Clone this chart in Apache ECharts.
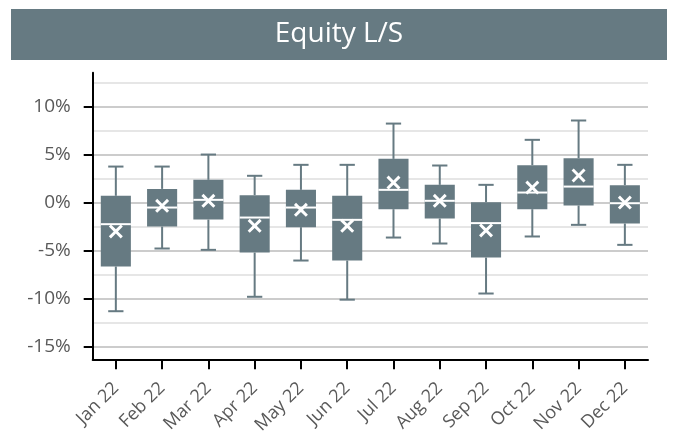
<!DOCTYPE html>
<html>
<head>
<meta charset="utf-8">
<script src="https://cdn.jsdelivr.net/npm/echarts@6/dist/echarts.min.js"></script>
<style>html,body{margin:0;padding:0;background:#fff;}#c{width:674px;height:441px;}</style>
</head>
<body>
<div id="c"></div>
<script>
const months = ['Jan 22','Feb 22','Mar 22','Apr 22','May 22','Jun 22','Jul 22','Aug 22','Sep 22','Oct 22','Nov 22','Dec 22'];
const lowValues    = [-11.3, -4.78, -4.92, -9.8, -6.03, -10.1, -3.64, -4.26, -9.46, -3.53, -2.32, -4.40];
const q1Values     = [-6.65, -2.5, -1.77, -5.2, -2.56, -6.03, -0.69, -1.66, -5.72, -0.69, -0.31, -2.18];
const medianValues = [-2.25, -0.52, 0.28, -1.56, -0.52, -1.80, 1.32, 0.18, -2.14, 1.04, 1.66, -0.07];
const q3Values     = [0.70, 1.42, 2.36, 0.77, 1.32, 0.70, 4.54, 1.84, 0.04, 3.88, 4.61, 1.81];
const highValues   = [3.74, 3.74, 4.99, 2.78, 3.92, 3.92, 8.21, 3.85, 1.84, 6.52, 8.53, 3.92];
const meanValues   = [-3.0, -0.34, 0.18, -2.42, -0.76, -2.42, 2.08, 0.18, -2.9, 1.56, 2.81, 0.0];
const majorTicks = [-15, -10, -5, 0, 5, 10];
const minorTicks = [-12.5, -7.5, -2.5, 2.5, 7.5, 12.5];
const yMin = -16.3, yMax = 13.5;
const labelMin = -15, labelMax = 10, labelStep = 5;

const BOX = '#667a82';
const H = 441;
const gTop = 72.7, gBottomPx = 359.3, gLeft = 92.7, gRight = 26;
const pxPer = (gBottomPx - gTop) / (yMax - yMin);
const innerTop = gTop + (yMax - labelMax) * pxPer;
const innerBottomPx = gTop + (yMax - labelMin) * pxPer;

const boxData = months.map((m, i) => [i, lowValues[i], q1Values[i], medianValues[i], q3Values[i], highValues[i]]);
const meanData = months.map((m, i) => [i, meanValues[i]]);

const chart = echarts.init(document.getElementById('c'), null, {renderer: 'canvas'});
const FONT = '"Open Sans", sans-serif';
chart.setOption({
  animation: false,
  graphic: [
    {type: 'rect', shape: {x: 11, y: 9, width: 656, height: 51}, style: {fill: BOX}, z: 0},
    {type: 'text', x: 339, y: 34.5, style: {text: 'Equity L/S', fill: '#ffffff', font: '28px "Open Sans", sans-serif', textAlign: 'center', textVerticalAlign: 'middle'}, z: 1}
  ],
  grid: [
    {left: gLeft, right: gRight, top: gTop, bottom: H - gBottomPx, containLabel: false},
    {left: gLeft, right: gRight, top: innerTop, bottom: H - innerBottomPx, containLabel: false}
  ],
  xAxis: [
    {
      type: 'category', gridIndex: 0, data: months, boundaryGap: true, position: 'bottom',
      axisLine: {show: true, onZero: false, lineStyle: {color: '#000', width: 2}},
      axisTick: {show: true, alignWithLabel: true, length: 10, lineStyle: {color: '#000', width: 2}},
      axisLabel: {rotate: 45, margin: 26, fontSize: 18, color: '#595959', fontFamily: FONT},
      splitLine: {show: false}
    },
    {type: 'category', gridIndex: 1, data: months, show: false}
  ],
  yAxis: [
    {
      type: 'value', gridIndex: 0, min: yMin, max: yMax,
      axisLine: {show: true, onZero: false, lineStyle: {color: '#000', width: 2}},
      axisTick: {show: false}, axisLabel: {show: false}, splitLine: {show: false}
    },
    {
      type: 'value', gridIndex: 1, min: labelMin, max: labelMax, interval: labelStep,
      axisLine: {show: false},
      axisTick: {show: true, length: 9, lineStyle: {color: '#000', width: 2}},
      axisLabel: {show: true, margin: 22, fontSize: 19, color: '#595959', fontFamily: FONT, formatter: v => v + '%'},
      splitLine: {show: false}
    }
  ],
  series: [
    {
      type: 'line', xAxisIndex: 0, yAxisIndex: 0, data: [], z: 0, silent: true,
      markLine: {
        silent: true, symbol: ['none', 'none'], z: 0, label: {show: false}, animation: false,
        data: majorTicks.map(v => ({yAxis: v, lineStyle: {color: '#cccccc', width: 2, type: 'solid'}}))
          .concat(minorTicks.map(v => ({yAxis: v, lineStyle: {color: '#e6e6e6', width: 2, type: 'solid'}})))
      }
    },
    {
      type: 'custom', xAxisIndex: 0, yAxisIndex: 0, z: 2,
      data: boxData,
      encode: {x: 0, y: [1, 2, 3, 4, 5]},
      renderItem: function (params, api) {
        const x = api.value(0);
        const lo = api.coord([x, api.value(1)]);
        const q1 = api.coord([x, api.value(2)]);
        const med = api.coord([x, api.value(3)]);
        const q3 = api.coord([x, api.value(4)]);
        const hi = api.coord([x, api.value(5)]);
        const band = api.size([1, 0])[0];
        const bw = band * 0.65, cw = band * 0.33;
        const cx = lo[0];
        const ls = {stroke: BOX, lineWidth: 2};
        return {
          type: 'group',
          children: [
            {type: 'line', shape: {x1: cx, y1: hi[1], x2: cx, y2: q3[1]}, style: ls},
            {type: 'line', shape: {x1: cx, y1: q1[1], x2: cx, y2: lo[1]}, style: ls},
            {type: 'line', shape: {x1: cx - cw / 2, y1: hi[1], x2: cx + cw / 2, y2: hi[1]}, style: ls},
            {type: 'line', shape: {x1: cx - cw / 2, y1: lo[1], x2: cx + cw / 2, y2: lo[1]}, style: ls},
            {type: 'rect', shape: {x: cx - bw / 2, y: q3[1], width: bw, height: q1[1] - q3[1]}, style: {fill: BOX}},
            {type: 'line', shape: {x1: cx - bw / 2, y1: med[1], x2: cx + bw / 2, y2: med[1]}, style: {stroke: '#ffffff', lineWidth: 2}}
          ]
        };
      }
    },
    {
      type: 'scatter', xAxisIndex: 0, yAxisIndex: 0, z: 3,
      data: meanData,
      symbol: 'path://M0,1.5L1.5,0L5,3.5L8.5,0L10,1.5L6.5,5L10,8.5L8.5,10L5,6.5L1.5,10L0,8.5L3.5,5Z',
      symbolSize: 14,
      itemStyle: {color: '#ffffff', opacity: 1}
    }
  ]
});
</script>
</body>
</html>
